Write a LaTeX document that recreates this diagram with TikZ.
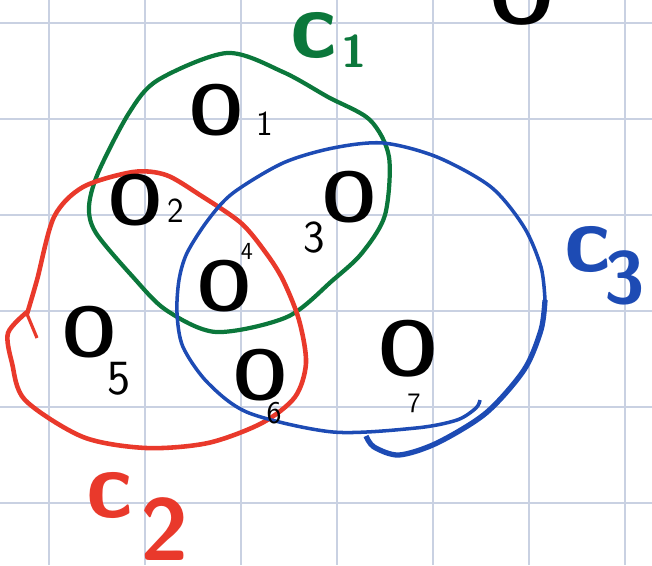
\documentclass[tikz,border=0pt]{standalone}
\usepackage{tikz}
\usetikzlibrary{positioning}
\definecolor{gridblue}{HTML}{C9D1E2}
\definecolor{setgreen}{HTML}{0B773B}
\definecolor{setred}{HTML}{E9392B}
\definecolor{setblue}{HTML}{1D4BB4}
\begin{document}
\begin{tikzpicture}[x=0.02cm,y=-0.02cm,
  obj/.style={inner sep=0pt,font=\fontsize{40}{40}\selectfont\sffamily\bfseries},
  idx/.style={inner sep=0pt,font=\fontsize{20}{20}\selectfont\sffamily},
  setname/.style={inner sep=0pt,font=\fontsize{54}{54}\selectfont\sffamily\bfseries}]
\useasboundingbox (0,0) rectangle (652,565);
\clip (0,0) rectangle (652,565);
% --- grid paper ---
\foreach \gx in {49,145,...,625} \draw[gridblue,line width=0.8pt] (\gx,0) -- (\gx,565);
\foreach \gy in {23,119,...,503} \draw[gridblue,line width=0.8pt] (0,\gy) -- (652,\gy);
% --- set c1 (green) ---
\draw[setgreen,line width=2.4pt] plot[smooth cycle] coordinates {(227,53) (283,72) (328,97) (370,120) (389,157) (385,215) (362,253) (333,280) (287,317) (216,332) (166,310) (133,277) (96,233) (89,207) (98,173) (129,113) (158,80)};
% --- set c2 (red) ---
\draw[setred,line width=2.6pt] plot[smooth] coordinates {(27,314) (37,280) (54,217) (83,187) (133,172) (166,175) (200,195) (241,223) (266,253) (283,280) (299,320) (306,363) (295,397) (262,423) (208,443) (146,448) (83,437) (25,400) (12,363) (8,333) (27,312)};
\draw[setred,line width=1.8pt] (27,314) -- (37,338);
% --- set c3 (blue), open at the bottom ---
\draw[setblue,line width=2pt] plot[smooth] coordinates {(545,300) (541,267) (524,227) (491,187) (437,157) (383,143) (333,148) (283,163) (233,193) (208,220) (187,253) (179,280) (177,313) (183,347) (208,383) (249,413) (333,432) (416,428) (457,420) (476,408) (480,400)};
\draw[setblue,line width=3pt] plot[smooth] coordinates {(545,300) (541,330) (524,370) (486,413) (437,443) (399,455) (374,447) (366,436)};
% --- objects ---
\node[obj] (o1) at (216,110) {O};
\node[idx] (n1) at (265,124) {1};
\node[obj] (o2) at (135,200) {O};
\node[idx] (n2) at (176,211) {2};
\node[obj] (o3) at (349,197) {O};
\node[idx,font=\fontsize{26}{26}\selectfont\sffamily] (n3) at (314,238) {3};
\node[obj] (o4) at (224,286) {O};
\node[idx,font=\fontsize{14}{14}\selectfont\sffamily] (n4) at (247,251) {4};
\node[obj] (o5) at (89,332) {O};
\node[idx,font=\fontsize{28}{28}\selectfont\sffamily] (n5) at (119,379) {5};
\node[obj] (o6) at (260,375) {O};
\node[idx,font=\fontsize{18}{18}\selectfont\sffamily] (n6) at (274,413) {6};
\node[obj,font=\fontsize{44}{44}\selectfont\sffamily\bfseries] (o7) at (408,349) {O};
\node[idx,font=\fontsize{16}{16}\selectfont\sffamily] (n7) at (414,403) {7};
\node[obj,font=\fontsize{48}{48}\selectfont\sffamily\bfseries] (o8) at (522,-6) {O};
% --- set names ---
\node[setname,setgreen] (c1) at (314,35) {c};
\node[setname,setgreen,font=\fontsize{26}{26}\selectfont\sffamily\bfseries] (i1) at (354,51) {1};
\node[setname,setred] (c2) at (110,495) {c};
\node[setname,setred,font=\fontsize{50}{50}\selectfont\sffamily\bfseries] (i2) at (165,529) {2};
\node[setname,setblue] (c3) at (588,249) {c};
\node[setname,setblue,font=\fontsize{42}{42}\selectfont\sffamily\bfseries] (i3) at (625,278) {3};
\end{tikzpicture}
\end{document}
